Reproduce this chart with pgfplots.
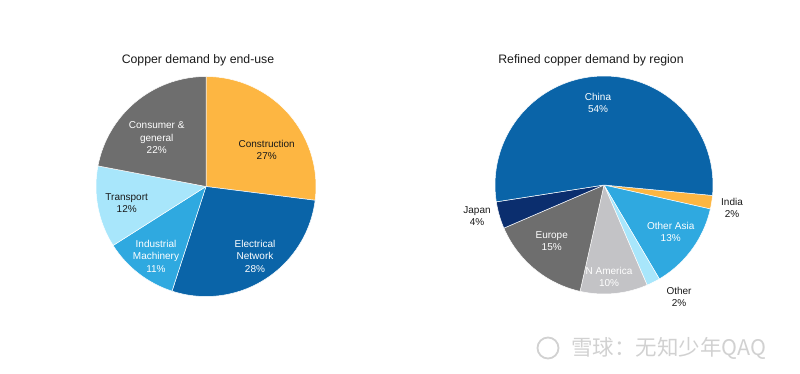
\documentclass[border=0pt]{standalone}
\usepackage{pgfplots}
\pgfplotsset{compat=1.18}
\usepackage{fontspec}
\setmainfont{Liberation Sans}
\newfontfamily\cjk{Noto Sans CJK SC}
\definecolor{cOrange}{HTML}{FDB642}
\definecolor{cDark}{HTML}{0A64A8}
\definecolor{cMid}{HTML}{2FA9E0}
\definecolor{cLight}{HTML}{A8E6FB}
\definecolor{cGray}{HTML}{6E6E6E}
\definecolor{cLGray}{HTML}{C3C3C6}
\definecolor{cNavy}{HTML}{0B2E6E}
\definecolor{cTxt}{HTML}{1A1A1A}
% \slice{cx}{cy}{r}{start angle}{percent}{colour} -- drawn clockwise from start
\newcommand{\slice}[6]{%
  \addplot[draw=white, line width=0.5pt, line join=round, fill=#6,
    domain={#4-3.6*#5}:{#4}, samples=90, variable=\t]
    ({#1+#3*cos(\t)},{#2+#3*sin(\t)}) -- (axis cs:#1,#2) -- cycle;}
\begin{document}
\begin{tikzpicture}
\useasboundingbox (0,0) rectangle (800pt,373pt);
\begin{axis}[at={(0,0)}, anchor=south west, scale only axis,
  width=800pt, height=373pt, xmin=0, xmax=800, ymin=0, ymax=373,
  hide axis, clip=false]
% ---- Copper demand by end-use (centre 206,186 ; r 110)
\slice{206}{186.5}{110}{90}{27}{cOrange}      % Construction
\slice{206}{186.5}{110}{-7.2}{28}{cDark}      % Electrical Network
\slice{206}{186.5}{110}{-108}{11}{cMid}       % Industrial Machinery
\slice{206}{186.5}{110}{-147.6}{12}{cLight}   % Transport
\slice{206}{186.5}{110}{-190.8}{22}{cGray}    % Consumer & general
% ---- Refined copper demand by region (centre 604,188 ; r 109)
\slice{604}{188}{109}{-5.5}{2}{cOrange}       % India
\slice{604}{188}{109}{-12.7}{13}{cMid}        % Other Asia
\slice{604}{188}{109}{-59.5}{2}{cLight}       % Other
\slice{604}{188}{109}{-66.7}{10}{cLGray}      % N America
\slice{604}{188}{109}{-102.7}{15}{cGray}      % Europe
\slice{604}{188}{109}{-156.7}{4}{cNavy}       % Japan
\slice{604}{188}{109}{-171.1}{54}{cDark}      % China
\end{axis}
\begin{scope}[every node/.style={align=center, font=\fontsize{10}{12.5}\selectfont, inner sep=0pt}]
% titles
\node[font=\fontsize{12.3}{14}\selectfont, text=cTxt] at (198pt,313pt) {Copper demand by end-use};
\node[font=\fontsize{12.3}{14}\selectfont, text=cTxt] at (591pt,313pt) {Refined copper demand by region};
% left labels
\node[text=white] at (156.7pt,235pt) {Consumer \&\\general\\22\%};
\node[text=cTxt] at (266.7pt,223pt) {Construction\\27\%};
\node[text=cTxt] at (126.7pt,170pt) {Transport\\12\%};
\node[text=white] at (156pt,117pt) {Industrial\\Machinery\\11\%};
\node[text=white] at (255pt,117pt) {Electrical\\Network\\28\%};
% right labels
\node[text=white] at (598pt,270pt) {China\\54\%};
\node[text=cTxt] at (732pt,165pt) {India\\2\%};
\node[text=cTxt] at (477pt,157pt) {Japan\\4\%};
\node[text=white] at (551.7pt,132pt) {Europe\\15\%};
\node[text=white] at (609pt,96.3pt) {N America\\10\%};
\node[text=white] at (670.7pt,141pt) {Other Asia\\13\%};
\node[text=cTxt] at (679pt,76.3pt) {Other\\2\%};
% watermark
\node[text=black!18, font=\cjk\fontsize{21.5}{23}\selectfont, anchor=west] at (571pt,25pt) {雪球：无知少年QAQ};
\draw[black!18, line width=1.8pt] (548pt,25pt) circle (10.5pt);
\end{scope}
\end{tikzpicture}
\end{document}
